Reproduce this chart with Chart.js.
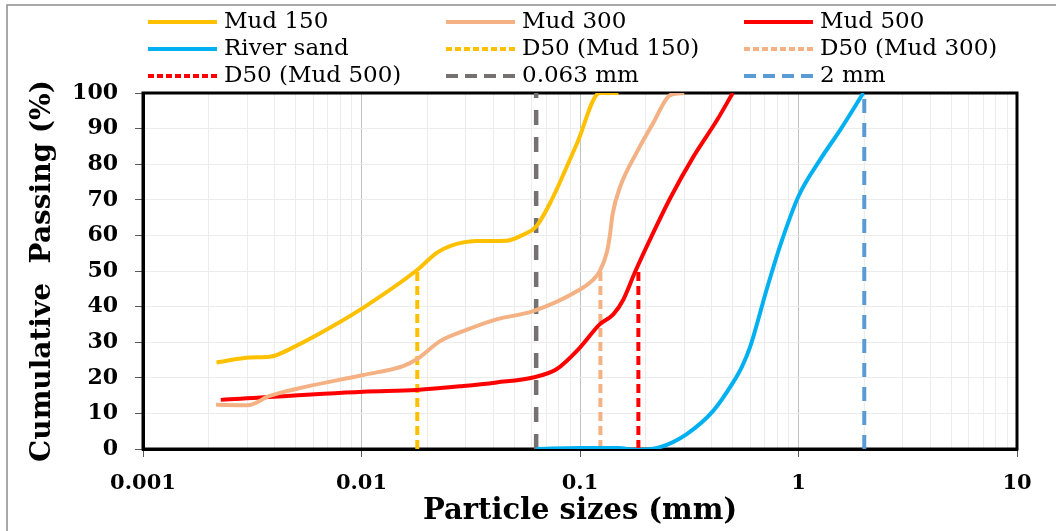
<!DOCTYPE html>
<html lang="en">
<head>
    <meta charset="UTF-8">
    <title>Particle size distribution</title>
    <script src="https://cdn.jsdelivr.net/npm/chart.js"></script>
    <style>
        body {
            margin: 0;
            background: #ffffff;
        }

        #chart-container {
            width: 1056px;
            height: 531px;
            position: relative;
        }
    </style>
</head>
<body>

<div id="chart-container">
    <canvas id="psdChart"></canvas>
</div>

<script>
    // Grading curves (size in mm, % passing)
    const mud150Size = [0.00217, 0.0031, 0.0038, 0.0050, 0.0072, 0.0102, 0.0179, 0.0221, 0.0254, 0.0335, 0.046, 0.055, 0.063, 0.073, 0.097, 0.123, 0.15];
    const mud150Pass = [24.3, 25.7, 25.9, 28.9, 34.1, 39.7, 50.2, 55.1, 57.0, 58.4, 58.5, 60.2, 62.5, 69.1, 85.9, 100, 100];

    const mud300Size = [0.00216, 0.0030, 0.0038, 0.0054, 0.0102, 0.0155, 0.0179, 0.0229, 0.0292, 0.0415, 0.061, 0.0999, 0.115, 0.123, 0.133, 0.137, 0.141, 0.153, 0.181, 0.216, 0.259, 0.30];
    const mud300Pass = [12.4, 12.3, 14.9, 17.3, 20.8, 23.3, 25.2, 30.3, 33.1, 36.4, 38.7, 44.8, 47.6, 49.9, 55.5, 60, 66, 73.8, 83.1, 91.5, 99.4, 100];

    const mud500Size = [0.00227, 0.0102, 0.0179, 0.0292, 0.0415, 0.061, 0.078, 0.1, 0.123, 0.142, 0.158, 0.178, 0.209, 0.259, 0.331, 0.424, 0.50];
    const mud500Pass = [13.8, 16.1, 16.6, 17.7, 18.7, 20.1, 22.4, 28.5, 35, 37.8, 42, 49.5, 58.8, 70.5, 82.2, 92.4, 100];

    const riverSize = [0.063, 0.1, 0.15, 0.181, 0.232, 0.308, 0.407, 0.502, 0.55, 0.60, 0.715, 0.823, 1.0, 1.254, 1.558, 1.98];
    const riverPass = [0, 0.3, 0.3, -0.3, 0.5, 4.2, 10.7, 18.7, 23.0, 28.6, 44.8, 57, 71, 81.2, 89.8, 100];

    // D50 of each mud and the two reference sizes
    const d50Mud150 = 0.018;
    const d50Mud300 = 0.124;
    const d50Mud500 = 0.185;
    const siltLimit = 0.063;
    const sandLimit = 2;

    const xTickLabels = ['0.001', '0.01', '0.1', '1', '10'];

    function pts(xs, ys) {
        return xs.map((x, i) => ({ x: x, y: ys[i] }));
    }

    function vline(x, top) {
        return [{ x: x, y: 0 }, { x: x, y: top }];
    }

    function isDecade(v) {
        const lg = Math.log10(v);
        return Math.abs(lg - Math.round(lg)) < 1e-6;
    }

    const serif = '"DejaVu Serif", "Liberation Serif", serif';

    // legend in three columns above the plot, plus the outer frame
    const framePlugin = {
        id: 'frame',
        beforeDraw(chart) {
            const ctx = chart.ctx;
            ctx.save();
            ctx.fillStyle = '#ffffff';
            ctx.fillRect(0, 0, chart.width, chart.height);
            ctx.strokeStyle = '#8c8c8c';
            ctx.lineWidth = 1.5;
            ctx.beginPath();
            ctx.moveTo(7, chart.height);
            ctx.lineTo(7, 5);
            ctx.lineTo(chart.width, 5);
            ctx.stroke();
            ctx.restore();
        },
        beforeDatasetsDraw(chart) {
            const a = chart.chartArea;
            const ctx = chart.ctx;
            ctx.save();
            ctx.strokeStyle = '#000000';
            ctx.lineWidth = 3;
            ctx.strokeRect(a.left, a.top, a.right - a.left, a.bottom - a.top);
            ctx.restore();
        },
        afterDraw(chart) {
            const ctx = chart.ctx;
            const cols = [148, 446, 744];
            const rows = [22, 49, 76];
            chart.data.datasets.forEach((ds, i) => {
                const x = cols[i % 3];
                const y = rows[Math.floor(i / 3)];
                ctx.save();
                ctx.strokeStyle = ds.borderColor;
                ctx.lineWidth = 4;
                ctx.setLineDash(ds.legendDash || []);
                ctx.beginPath();
                ctx.moveTo(x, y);
                ctx.lineTo(x + 69, y);
                ctx.stroke();
                ctx.setLineDash([]);
                ctx.fillStyle = '#000000';
                ctx.font = '23px ' + serif;
                ctx.textBaseline = 'middle';
                ctx.fillText(ds.label, x + 76, y);
                ctx.restore();
            });
        }
    };

    const curve = { borderWidth: 4, pointRadius: 0, cubicInterpolationMode: 'monotone', fill: false };
    const dashed = { borderWidth: 4, pointRadius: 0, tension: 0, fill: false };

    const ctx = document.getElementById('psdChart').getContext('2d');
    const psdChart = new Chart(ctx, {
        type: 'line',
        data: {
            datasets: [
                { ...curve, label: 'Mud 150', borderColor: '#FFC000', data: pts(mud150Size, mud150Pass) },
                { ...curve, label: 'Mud 300', borderColor: '#F4B183', data: pts(mud300Size, mud300Pass) },
                { ...curve, label: 'Mud 500', borderColor: '#FF0000', data: pts(mud500Size, mud500Pass) },
                { ...curve, label: 'River sand', borderColor: '#00B0F0', data: pts(riverSize, riverPass) },
                { ...dashed, label: 'D50 (Mud 150)', borderColor: '#FFC000', borderDash: [9, 5], legendDash: [6, 3], data: vline(d50Mud150, 50) },
                { ...dashed, label: 'D50 (Mud 300)', borderColor: '#F4B183', borderDash: [9, 5], legendDash: [6, 3], data: vline(d50Mud300, 50) },
                { ...dashed, label: 'D50 (Mud 500)', borderColor: '#FF0000', borderDash: [9, 5], legendDash: [6, 3], data: vline(d50Mud500, 50) },
                { ...dashed, label: '0.063 mm', borderColor: '#767171', borderWidth: 4.5, borderDash: [15, 12], legendDash: [12, 7], data: vline(siltLimit, 100) },
                { ...dashed, label: '2 mm', borderColor: '#5B9BD5', borderDash: [14, 10], legendDash: [12, 7], data: vline(sandLimit, 100) }
            ]
        },
        options: {
            responsive: true,
            maintainAspectRatio: false,
            animation: false,
            layout: {
                padding: { top: 93, right: 39, left: 0, bottom: 0 }
            },
            plugins: {
                legend: { display: false },
                tooltip: { enabled: false }
            },
            scales: {
                x: {
                    type: 'logarithmic',
                    min: 0.001,
                    max: 10,
                    afterBuildTicks: function (scale) {
                        const ticks = [];
                        for (let e = -3; e <= 0; e++) {
                            for (let m = 1; m <= 9; m++) {
                                ticks.push({ value: m * Math.pow(10, e), major: m === 1 });
                            }
                        }
                        ticks.push({ value: 10, major: true });
                        scale.ticks = ticks;
                    },
                    afterFit: function (scale) {
                        scale.height = 82;
                    },
                    ticks: {
                        autoSkip: false,
                        maxRotation: 0,
                        padding: 14,
                        color: '#000000',
                        font: { family: serif, size: 21, weight: 'bold' },
                        callback: function (value) {
                            if (!isDecade(value)) return '';
                            return xTickLabels[Math.round(Math.log10(value)) + 3];
                        }
                    },
                    grid: {
                        color: (c) => (c.tick && isDecade(c.tick.value)) ? '#c0c0c0' : '#ececec',
                        tickColor: (c) => (c.tick && isDecade(c.tick.value)) ? '#595959' : 'rgba(0,0,0,0)',
                        tickLength: 8,
                        lineWidth: 1
                    },
                    border: { color: '#000000', width: 3 },
                    title: {
                        display: true,
                        text: 'Particle sizes (mm)',
                        color: '#000000',
                        font: { family: serif, size: 29, weight: 'bold' },
                        padding: { top: 0, bottom: 2 }
                    }
                },
                y: {
                    min: 0,
                    max: 100,
                    afterFit: function (scale) {
                        scale.width = 143;
                    },
                    ticks: {
                        stepSize: 10,
                        padding: 17,
                        color: '#000000',
                        font: { family: serif, size: 22, weight: 'bold' }
                    },
                    grid: {
                        color: '#ececec',
                        tickColor: '#595959',
                        tickLength: 8,
                        lineWidth: 1
                    },
                    border: { color: '#000000', width: 3 },
                    title: {
                        display: true,
                        text: 'Cumulative  Passing (%)',
                        color: '#000000',
                        font: { family: serif, size: 28, weight: 'bold' },
                        padding: { top: 26, bottom: 0 }
                    }
                }
            }
        },
        plugins: [framePlugin]
    });
</script>

</body>
</html>
